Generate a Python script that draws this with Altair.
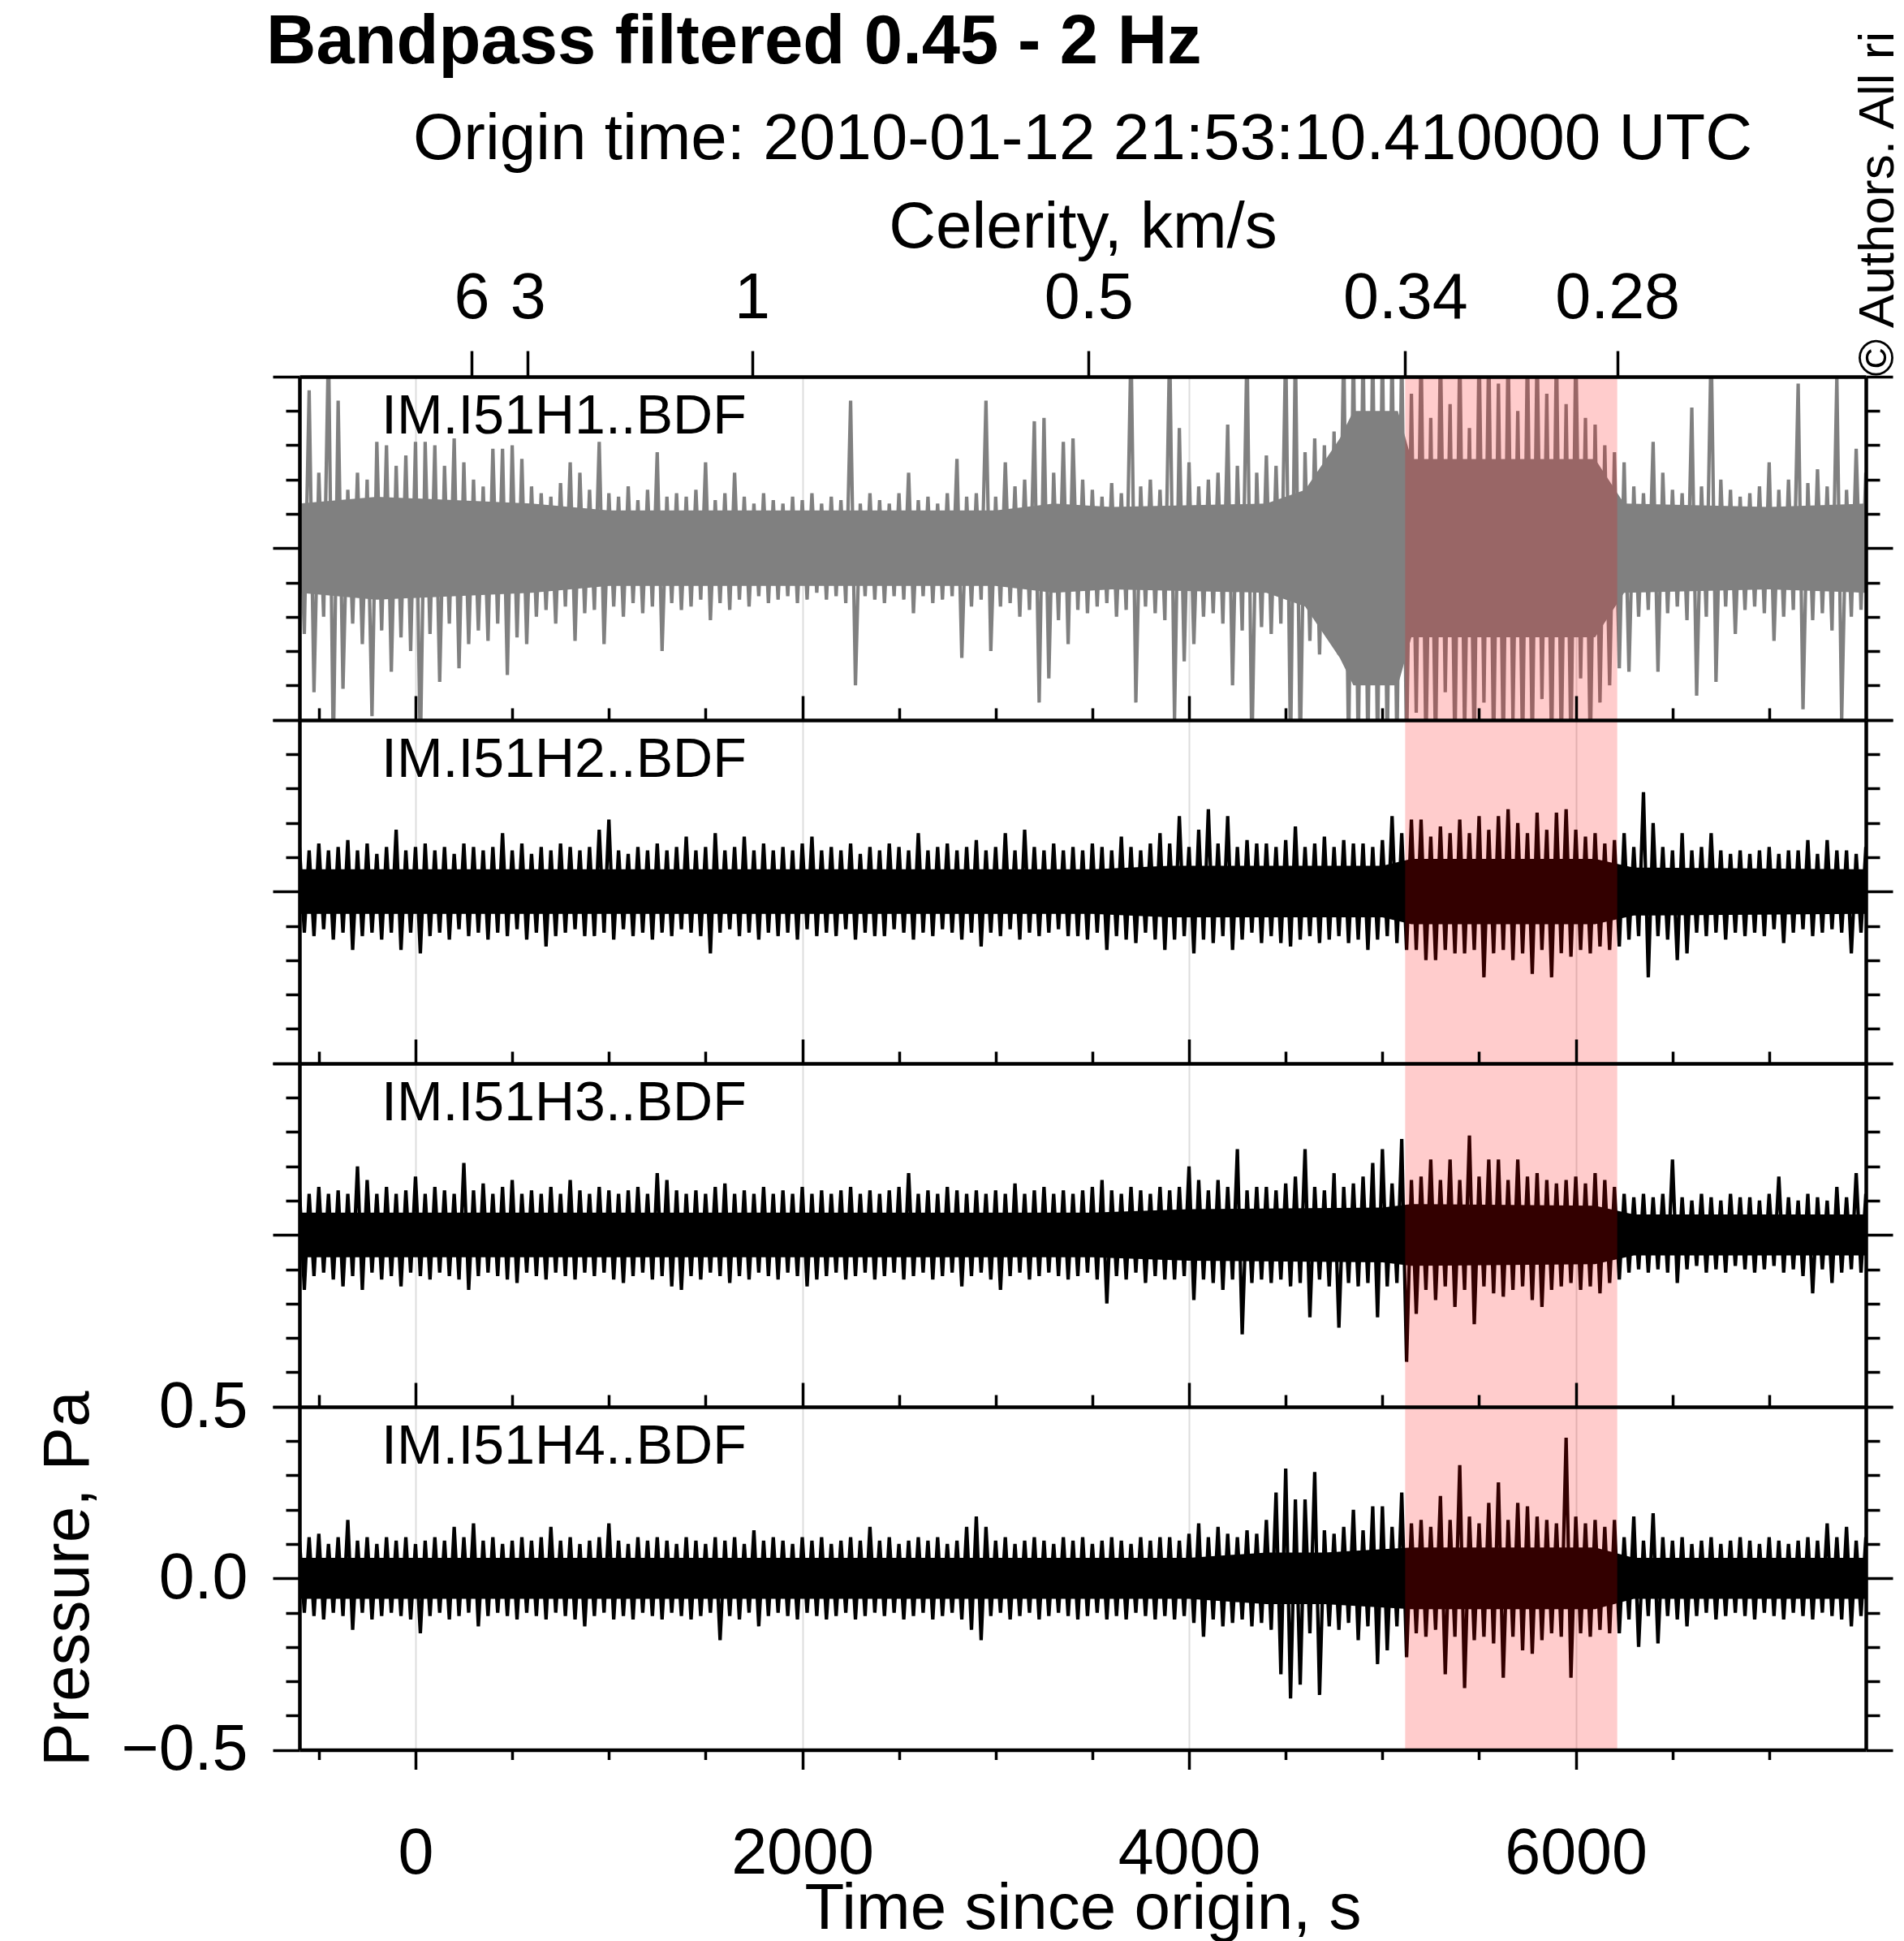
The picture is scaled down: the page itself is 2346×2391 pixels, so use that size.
import altair as alt
import pandas as pd
import numpy as np

FONT = "Liberation Sans"

# ---------------- data ----------------
T_START, T_STEP = -600, 50          # min/max envelope windows of 50 s from -600 s
X_DOMAIN = [-600, 7500]
Y_DOMAIN = [-0.5, 0.5]

stations = ["IM.I51H1..BDF", "IM.I51H2..BDF", "IM.I51H3..BDF", "IM.I51H4..BDF"]
trace_colors = ["#808080", "#000000", "#000000", "#000000"]

# maximum / minimum of each trace in every 50 s window, in units of 0.01 Pa
h1_hi = [18, 46, 22, 60, 43, 17, 22, 20, 31, 30,
         24, 27, 31, 31, 30, 24, 32, 25, 20, 18,
         29, 29, 30, 26, 18, 16, 15, 19, 25, 22,
         17, 31, 16, 15, 18, 14, 17, 28, 15, 16,
         15, 17, 25, 14, 16, 22, 15, 13, 16, 14,
         13, 15, 14, 16, 13, 15, 14, 43, 13, 16,
         14, 13, 16, 22, 14, 15, 13, 16, 26, 15,
         16, 43, 15, 25, 18, 20, 37, 38, 22, 31,
         32, 20, 17, 15, 19, 16, 60, 18, 20, 17,
         60, 35, 25, 18, 20, 22, 36, 24, 60, 22,
         27, 24, 60, 60, 28, 32, 30, 34, 60, 60,
         60, 60, 60, 60, 60, 45, 60, 38, 60, 42,
         60, 35, 60, 60, 48, 60, 40, 60, 60, 45,
         60, 42, 60, 38, 36, 30, 28, 25, 18, 16,
         31, 22, 17, 16, 41, 18, 60, 20, 17, 15,
         16, 18, 25, 17, 20, 48, 19, 23, 18, 50,
         17, 29, 22]
h1_lo = [-25, -42, -20, -60, -41, -22, -28, -49, -24, -36,
         -26, -30, -60, -25, -39, -22, -35, -28, -24, -27,
         -22, -37, -26, -28, -20, -18, -22, -17, -27, -19,
         -18, -28, -17, -20, -16, -19, -17, -30, -16, -18,
         -17, -15, -21, -16, -18, -15, -17, -14, -16, -15,
         -14, -16, -15, -13, -15, -14, -16, -40, -14, -15,
         -16, -14, -15, -19, -14, -16, -15, -14, -32, -17,
         -15, -30, -17, -16, -20, -18, -45, -38, -21, -28,
         -18, -19, -17, -16, -20, -18, -45, -17, -19, -21,
         -50, -33, -28, -20, -19, -22, -40, -24, -60, -23,
         -25, -22, -60, -60, -27, -31, -26, -31, -60, -60,
         -60, -60, -60, -60, -60, -48, -60, -60, -42, -60,
         -55, -60, -45, -60, -60, -50, -60, -60, -44, -60,
         -60, -60, -38, -60, -45, -40, -35, -36, -20, -18,
         -36, -19, -17, -21, -43, -20, -39, -17, -25, -18,
         -17, -19, -27, -20, -18, -47, -21, -19, -24, -50,
         -20, -18, -22]

h2_hi = [13, 12, 14, 12, 13, 15, 12, 14, 11, 13,
         18, 12, 13, 14, 12, 13, 11, 14, 13, 12,
         13, 17, 12, 14, 11, 13, 12, 14, 13, 12,
         13, 18, 21, 12, 11, 13, 12, 14, 12, 13,
         16, 12, 13, 17, 12, 13, 16, 12, 14, 12,
         13, 12, 14, 16, 12, 13, 12, 14, 11, 13,
         12, 14, 13, 12, 17, 12, 13, 14, 12, 13,
         15, 12, 13, 17, 12, 18, 13, 12, 14, 12,
         13, 12, 14, 13, 12, 16, 13, 12, 14, 17,
         14, 22, 13, 18, 24, 14, 22, 13, 15, 14,
         14, 13, 15, 19, 13, 14, 16, 13, 15, 14,
         14, 13, 15, 22, 17, 21, 21, 16, 19, 17,
         21, 17, 22, 18, 22, 24, 20, 17, 23, 18,
         23, 24, 18, 16, 17, 14, 15, 17, 13, 29,
         20, 13, 12, 17, 12, 13, 17, 12, 11, 12,
         11, 12, 13, 11, 12, 12, 15, 11, 15, 12,
         12, 11, 13]
h2_lo = [-12, -13, -11, -14, -12, -17, -13, -12, -14, -12,
         -17, -12, -18, -13, -12, -14, -11, -13, -12, -14,
         -12, -13, -11, -14, -12, -16, -13, -12, -11, -13,
         -13, -12, -14, -11, -13, -12, -14, -12, -13, -11,
         -12, -13, -18, -12, -11, -13, -12, -14, -12, -13,
         -12, -14, -11, -13, -12, -13, -11, -14, -12, -13,
         -13, -11, -12, -14, -12, -13, -11, -12, -14, -12,
         -16, -12, -13, -11, -14, -12, -13, -12, -11, -13,
         -13, -14, -12, -17, -13, -14, -15, -12, -14, -17,
         -14, -13, -18, -14, -15, -13, -17, -14, -12, -15,
         -13, -15, -16, -14, -13, -15, -14, -13, -15, -14,
         -17, -14, -13, -15, -17, -17, -20, -20, -17, -18,
         -18, -17, -25, -18, -17, -20, -18, -24, -17, -25,
         -18, -19, -17, -18, -16, -17, -16, -14, -13, -25,
         -13, -14, -20, -18, -12, -13, -12, -14, -12, -13,
         -12, -13, -11, -15, -12, -11, -13, -12, -11, -12,
         -18, -12, -11]

h3_hi = [13, 12, 14, 12, 13, 12, 20, 16, 12, 14,
         12, 13, 17, 12, 14, 13, 12, 21, 13, 15,
         12, 14, 16, 12, 13, 12, 14, 12, 16, 13,
         12, 14, 13, 12, 13, 14, 12, 18, 16, 13,
         12, 13, 12, 14, 15, 12, 13, 12, 14, 12,
         13, 12, 14, 12, 13, 12, 13, 14, 12, 13,
         12, 13, 14, 18, 12, 13, 12, 14, 13, 12,
         13, 12, 13, 12, 15, 12, 13, 14, 12, 13,
         12, 13, 14, 16, 13, 12, 14, 13, 12, 14,
         13, 14, 20, 16, 13, 16, 14, 25, 13, 14,
         14, 13, 15, 17, 25, 14, 13, 18, 14, 15,
         17, 21, 25, 15, 28, 16, 17, 22, 16, 22,
         16, 29, 17, 22, 22, 16, 22, 17, 18, 16,
         15, 16, 17, 15, 18, 16, 14, 12, 11, 12,
         11, 12, 22, 11, 10, 12, 11, 10, 12, 11,
         11, 10, 12, 17, 11, 10, 12, 11, 10, 14,
         11, 18, 12]
h3_lo = [-16, -12, -11, -13, -15, -12, -16, -11, -13, -12,
         -15, -11, -12, -13, -11, -12, -13, -16, -12, -11,
         -12, -13, -14, -11, -12, -13, -11, -12, -13, -11,
         -12, -11, -13, -14, -12, -11, -13, -12, -15, -16,
         -12, -13, -11, -12, -14, -12, -13, -11, -12, -13,
         -11, -12, -15, -13, -12, -11, -13, -12, -11, -13,
         -12, -11, -13, -12, -11, -13, -12, -11, -15, -12,
         -11, -13, -16, -12, -11, -13, -12, -11, -12, -13,
         -12, -11, -13, -20, -12, -13, -11, -14, -12, -13,
         -13, -12, -19, -13, -14, -16, -13, -29, -14, -13,
         -14, -13, -15, -14, -24, -13, -15, -27, -14, -15,
         -14, -24, -15, -14, -37, -23, -16, -19, -15, -21,
         -16, -26, -15, -17, -18, -16, -15, -19, -21, -16,
         -15, -14, -16, -15, -17, -14, -13, -11, -10, -11,
         -10, -11, -14, -10, -9, -11, -10, -11, -9, -10,
         -11, -10, -9, -11, -10, -12, -17, -10, -14, -11,
         -10, -11, -10]

h4_hi = [11, 12, 13, 10, 12, 17, 11, 12, 10, 12,
         11, 12, 10, 11, 12, 11, 15, 12, 16, 11,
         12, 10, 11, 12, 11, 12, 15, 11, 12, 10,
         11, 12, 16, 11, 10, 12, 11, 12, 11, 10,
         12, 11, 10, 12, 11, 12, 10, 14, 11, 12,
         11, 10, 12, 11, 12, 10, 11, 12, 11, 15,
         11, 12, 10, 11, 12, 11, 12, 10, 11, 15,
         18, 15, 11, 12, 10, 11, 12, 11, 10, 12,
         11, 12, 10, 11, 12, 11, 10, 12, 11, 12,
         12, 11, 13, 16, 12, 15, 13, 12, 14, 13,
         17, 25, 32, 23, 23, 31, 14, 13, 15, 20,
         14, 21, 21, 15, 25, 16, 17, 15, 24, 17,
         33, 18, 16, 22, 28, 17, 22, 21, 18, 17,
         16, 41, 18, 16, 17, 15, 17, 12, 18, 11,
         19, 12, 11, 12, 10, 11, 12, 10, 11, 12,
         11, 10, 12, 11, 10, 11, 12, 11, 16, 12,
         15, 11, 12]
h4_lo = [-10, -11, -12, -10, -11, -15, -10, -12, -11, -10,
         -11, -12, -16, -11, -10, -12, -11, -10, -14, -11,
         -10, -11, -12, -10, -11, -12, -10, -11, -12, -14,
         -11, -10, -12, -11, -12, -10, -11, -12, -10, -11,
         -12, -11, -10, -18, -11, -12, -10, -14, -11, -10,
         -11, -12, -10, -11, -12, -11, -10, -12, -11, -10,
         -11, -10, -12, -11, -10, -12, -11, -10, -12, -15,
         -18, -11, -10, -12, -11, -10, -12, -11, -10, -11,
         -12, -11, -10, -12, -11, -12, -10, -11, -12, -11,
         -12, -11, -13, -17, -12, -14, -13, -12, -14, -13,
         -15, -28, -35, -31, -16, -34, -14, -15, -13, -18,
         -14, -25, -21, -14, -23, -16, -17, -15, -28, -17,
         -32, -18, -17, -19, -29, -17, -21, -22, -18, -16,
         -17, -29, -16, -17, -15, -16, -16, -12, -20, -11,
         -19, -11, -12, -14, -11, -10, -12, -11, -10, -11,
         -12, -10, -11, -12, -10, -11, -12, -10, -11, -12,
         -14, -11, -10]

# half width (Pa) of the solid central band of each trace, at the listed times (s)
core_profiles = [
    [(-600, 0.13), (-200, 0.15), (600, 0.13), (1000, 0.11), (3000, 0.11), (3300, 0.13),
     (3600, 0.12), (4400, 0.13), (4600, 0.17), (4780, 0.32), (4850, 0.40), (5080, 0.40),
     (5150, 0.26), (6100, 0.26), (6250, 0.13), (7000, 0.12), (7500, 0.13)],
    [(-600, 0.065), (3500, 0.065), (3900, 0.075), (5000, 0.075), (5150, 0.095),
     (6100, 0.095), (6300, 0.07), (7500, 0.065)],
    [(-600, 0.065), (3500, 0.065), (4000, 0.075), (5000, 0.08), (5150, 0.09),
     (6100, 0.085), (6300, 0.06), (7500, 0.06)],
    [(-600, 0.06), (4000, 0.06), (4400, 0.075), (4700, 0.075), (5150, 0.09),
     (6100, 0.09), (6300, 0.06), (7500, 0.06)],
]

his = [h1_hi, h2_hi, h3_hi, h4_hi]
los = [h1_lo, h2_lo, h3_lo, h4_lo]

distance_km = 1740
celerities = [6, 3, 1, 0.5, 0.34, 0.28]
band_celerity = [0.34, 0.28]

major_x = [0, 2000, 4000, 6000]
minor_x = [-500, 500, 1000, 1500, 2500, 3000, 3500, 4500, 5000, 5500, 6500, 7000]
major_y = [-0.5, 0.0, 0.5]
minor_y = [-0.4, -0.3, -0.2, -0.1, 0.1, 0.2, 0.3, 0.4]

title_main = "Bandpass filtered 0.45 - 2 Hz"
title_origin = "Origin time: 2010-01-12 21:53:10.410000 UTC"
copyright_text = "\u00a9 Authors. All rights reserved."

# ---------------- layout constants ----------------
W, H = 1930, 422.5
LABEL_SIZE = 79
TITLE_SIZE = 80


def ax(**kw):
    base = dict(labelFont=FONT, titleFont=FONT, domainColor="black", tickColor="black",
                labelColor="black", titleColor="black", domainWidth=4.5, tickWidth=3.5,
                grid=False, labelFlush=False, labelOverlap=False, zindex=1,
                domain=False, labels=False)
    base.update(kw)
    return alt.Axis(**base)


xs = alt.Scale(domain=X_DOMAIN, nice=False, zero=False)
ys = alt.Scale(domain=Y_DOMAIN, nice=False, zero=False)
band_t = [distance_km / c for c in band_celerity]


def panel(k):
    color = trace_colors[k]
    n = len(his[k])
    # min/max decimated waveform: window maximum at window start, minimum at its middle
    t_win = [T_START + T_STEP * i for i in range(n)]
    tr = pd.DataFrame({
        "t": t_win + [t + T_STEP / 2 for t in t_win],
        "v": list(np.array(his[k]) / 100.0) + list(np.array(los[k]) / 100.0),
    }).sort_values("t")
    core = pd.DataFrame(core_profiles[k], columns=["t", "c"])
    core["neg"] = -core["c"]
    band = pd.DataFrame({"t0": [band_t[0]], "t1": [band_t[1]],
                         "y0": [Y_DOMAIN[0]], "y1": [Y_DOMAIN[1]]})
    dummy = pd.DataFrame({"t": [0.0], "v": [0.0]})

    # --- axes ---
    if k == 0:
        x_main = ax(orient="top", values=[distance_km / c for c in celerities],
                    labelExpr="format(%d / datum.value, '.2~r')" % distance_km,
                    tickSize=32, labels=True, labelFontSize=LABEL_SIZE,
                    labelBaseline="alphabetic", labelPadding=41,
                    title="Celerity, km/s", titleFontSize=TITLE_SIZE,
                    titleFontWeight="normal", titleBaseline="alphabetic", titleY=-160,
                    domain=True)
    else:
        x_main = ax(orient="top", values=major_x, tickSize=30, domain=True)
    x_grid = ax(orient="bottom", values=major_x, grid=True, gridColor="#dddddd",
                gridWidth=2, ticks=False, zindex=0)
    x_top_minor = ax(orient="top", values=minor_x, tickSize=15) if k > 0 else None

    if k == 3:
        y_main = ax(orient="left", values=major_y, tickSize=33, domain=True,
                    labels=True, format=".1f", labelFontSize=LABEL_SIZE, labelPadding=31,
                    title="Pressure, Pa", titleFontSize=TITLE_SIZE, titleFontWeight="normal",
                    titleAngle=270, titleBaseline="alphabetic", titleX=-261, titleY=H / 2)
    else:
        y_main = ax(orient="left", values=major_y, tickSize=33, domain=True)
    y_minor = ax(orient="left", values=minor_y, tickSize=17)
    y_right = ax(orient="right", values=major_y, tickSize=33, domain=True)
    y_right_minor = ax(orient="right", values=minor_y, tickSize=17)

    layers = []
    layers.append(alt.Chart(core).mark_area(color=color, clip=True).encode(
        x=alt.X("t:Q", scale=xs, axis=x_main, title=None),
        y=alt.Y("neg:Q", scale=ys, axis=y_main, title=None), y2="c"))
    layers.append(alt.Chart(tr).mark_line(color=color, strokeWidth=4.2, clip=True).encode(
        x=alt.X("t:Q", scale=xs, axis=x_grid, title=None),
        y=alt.Y("v:Q", scale=ys, axis=y_minor, title=None)))
    layers.append(alt.Chart(band).mark_rect(color="#ff0000", opacity=0.2).encode(
        x=alt.X("t0:Q", scale=xs, axis=x_top_minor, title=None), x2="t1",
        y=alt.Y("y0:Q", scale=ys, axis=y_right, title=None), y2="y1"))
    if k == 3:
        x_bot = ax(orient="bottom", values=major_x, tickSize=24, domain=True, labels=True,
                   format="d", labelFontSize=LABEL_SIZE, labelBaseline="alphabetic",
                   labelPadding=128, title="Time since origin, s", titleFontSize=TITLE_SIZE,
                   titleFontWeight="normal", titleBaseline="alphabetic", titleY=220)
        x_bot_minor = ax(orient="bottom", values=minor_x, tickSize=12)
    else:
        x_bot = None
        x_bot_minor = None
    layers.append(alt.Chart(dummy).mark_point(opacity=0).encode(
        x=alt.X("t:Q", scale=xs, axis=x_bot, title=None),
        y=alt.Y("v:Q", scale=ys, axis=y_right_minor, title=None)))
    if k == 3:
        layers.append(alt.Chart(dummy).mark_point(opacity=0).encode(
            x=alt.X("t:Q", scale=xs, axis=x_bot_minor, title=None),
            y=alt.Y("v:Q", scale=ys, axis=None)))
    layers.append(alt.Chart(pd.DataFrame({"s": [stations[k]]})).mark_text(
        align="left", baseline="alphabetic", fontSize=68, font=FONT, color="black").encode(
        text="s:N", x=alt.value(101), y=alt.value(70)))
    if k == 3:
        # figure-level annotations, placed relative to this (last) panel
        top_of_fig = -3 * H
        layers.append(alt.Chart(pd.DataFrame({"s": [title_main]})).mark_text(
            align="left", baseline="alphabetic", fontSize=85, font=FONT, fontWeight="bold",
            color="black").encode(text="s:N", x=alt.value(-41), y=alt.value(top_of_fig - 388)))
        layers.append(alt.Chart(pd.DataFrame({"s": [title_origin]})).mark_text(
            align="center", baseline="alphabetic", fontSize=TITLE_SIZE, font=FONT,
            color="black").encode(text="s:N", x=alt.value(W / 2), y=alt.value(top_of_fig - 270)))
        layers.append(alt.Chart(pd.DataFrame({"s": [copyright_text]})).mark_text(
            align="left", baseline="alphabetic", angle=270, fontSize=62, font=FONT,
            color="black", limit=440, ellipsis="\u200b").encode(
            text="s:N", x=alt.value(W + 34), y=alt.value(top_of_fig - 2)))

    return alt.layer(*layers).resolve_axis(x="independent", y="independent").properties(
        width=W, height=H)


chart = alt.vconcat(
    *[panel(k) for k in range(4)], spacing=0, bounds="flush",
).properties(
    padding={"left": 43, "top": 9, "right": 0, "bottom": 0}
).configure_view(stroke="transparent").configure(background="white")

chart.save("out.html", embed_options={"renderer": "svg", "actions": False})
